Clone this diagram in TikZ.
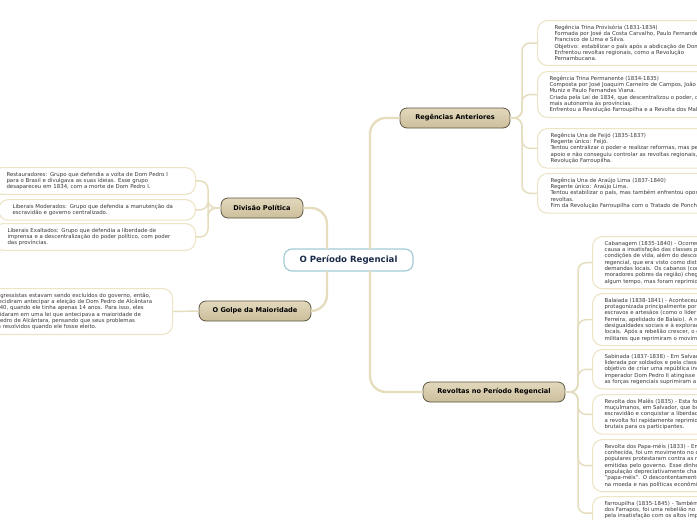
\documentclass[tikz,border=0pt]{standalone}
\usepackage{fontspec}
\setmainfont{DejaVu Sans}
\definecolor{connc}{HTML}{E6DDBE}
\definecolor{leafline}{HTML}{EDE4C6}
\definecolor{leaftext}{HTML}{3A3A3A}
\definecolor{brline}{HTML}{5E5744}
\definecolor{brtop}{HTML}{E2D8BC}
\definecolor{brbot}{HTML}{CBBE9B}
\definecolor{cline}{HTML}{A2CDD5}
\definecolor{ctext}{HTML}{1C2B4A}
\tikzset{
  leaf/.style={draw=leafline, line width=1.1pt, fill=white, rounded corners=10pt,
    align=left, font=\fontsize{5.4}{6.3}\selectfont, text=leaftext,
    inner ysep=4.5pt, anchor=north west},
  branch/.style={draw=brline, line width=0.8pt, top color=brtop, bottom color=brbot,
    rounded corners=7pt, minimum height=20pt, inner xsep=4pt,
    font=\fontsize{6.6}{7}\selectfont\bfseries, text=black},
  central/.style={draw=cline, line width=1.2pt, fill=white, rounded corners=8pt,
    minimum width=129pt, minimum height=22pt,
    font=\fontsize{8.6}{9}\selectfont\bfseries, text=ctext},
  spine/.style={draw=connc, line width=2.4pt, rounded corners=16pt},
  conn/.style={draw=connc, line width=1.5pt, rounded corners=8pt},
}
\begin{document}
\begin{tikzpicture}[x=1pt,y=-1pt]
\useasboundingbox (0,0) rectangle (697,520);
\clip (0,0) rectangle (697,520);
\fill[white] (0,0) rectangle (697,520);

% central and branches
\node[central] (c) at (348.5,260) {O Período Regencial};
\node[branch, minimum width=110pt] (ra) at (455,118) {Regências Anteriores};
\node[branch, minimum width=82pt] (dp) at (262,208) {Divisão Política};
\node[branch, minimum width=112pt] (gm) at (255,311) {O Golpe da Maioridade};
\node[branch, minimum width=142pt] (rv) at (494,392) {Revoltas no Período Regencial};

% Regências leaves
\node[leaf, text width=300pt, inner xsep=17pt] (r1) at (537,20) {Regência Trina Provisória (1831-1834)\\
Formada por José da Costa Carvalho, Paulo Fernandes Viana e\\
Francisco de Lima e Silva.\\
Objetivo: estabilizar o país após a abdicação de Dom Pedro I.\\
Enfrentou revoltas regionais, como a Revolução\\
Pernambucana.};
\node[leaf, text width=300pt, inner xsep=12pt] (r2) at (537,71) {Regência Trina Permanente (1834-1835)\\
Composta por José Joaquim Carneiro de Campos, João Bráulio\\
Muniz e Paulo Fernandes Viana.\\
Criada pela Lei de 1834, que descentralizou o poder, dando\\
mais autonomia às províncias.\\
Enfrentou a Revolução Farroupilha e a Revolta dos Malês.};
\node[leaf, text width=300pt, inner xsep=13pt] (r3) at (537,128) {Regência Una de Feijó (1835-1837)\\
Regente único: Feijó.\\
Tentou centralizar o poder e realizar reformas, mas perdeu\\
apoio e não conseguiu controlar as revoltas regionais, como a\\
Revolução Farroupilha.};
\node[leaf, text width=300pt, inner xsep=13pt] (r4) at (537,173) {Regência Una de Araújo Lima (1837-1840)\\
Regente único: Araújo Lima.\\
Tentou estabilizar o país, mas também enfrentou oposição e\\
revoltas.\\
Fim da Revolução Farroupilha com o Tratado de Ponche Verde.};

% Divisão Política leaves
\node[leaf, text width=175pt, inner xsep=14pt] (d1) at (-8,167) {Restauradores: Grupo que defendia a volta de Dom Pedro I\\
para o Brasil e divulgava as suas ideias. Esse grupo\\
desapareceu em 1834, com a morte de Dom Pedro I.};
\node[leaf, text width=169pt, inner xsep=14pt] (d2) at (-2,199) {Liberais Moderados: Grupo que defendia a manutenção da\\
escravidão e governo centralizado.};
\node[leaf, text width=174pt, inner xsep=14pt] (d3) at (-7,223) {Liberais Exaltados: Grupo que defendia a liberdade de\\
imprensa e a descentralização do poder político, com poder\\
das províncias.};

% Golpe leaf
\node[leaf, text width=176pt, inner xsep=14pt] (g1) at (-32,288) {Os progressistas estavam sendo excluídos do governo, então,\\
eles decidiram antecipar a eleição de Dom Pedro de Alcântara\\
em 1840, quando ele tinha apenas 14 anos. Para isso, eles\\
consolidaram em uma lei que antecipava a maioridade de\\
Dom Pedro de Alcântara, pensando que seus problemas\\
seriam resolvidos quando ele fosse eleito.};

% Revoltas leaves
\node[leaf, text width=300pt, inner xsep=12pt] (v1) at (592,236) {Cabanagem (1835-1840) - Ocorreu no Pará, tendo como\\
causa a insatisfação das classes populares com as\\
condições de vida, além do descontentamento com o governo\\
regencial, que era visto como distante e alheio às\\
demandas locais. Os cabanos (como eram chamados os\\
moradores pobres da região) chegaram a tomar o poder por\\
algum tempo, mas foram reprimidos.};
\node[leaf, text width=300pt, inner xsep=12pt] (v2) at (592,293) {Balaiada (1838-1841) - Aconteceu no Maranhão,\\
protagonizada principalmente por vaqueiros,\\
escravos e artesãos (como o líder Manuel dos Anjos\\
Ferreira, apelidado de Balaio). A revolta surgiu das\\
desigualdades sociais e à exploração pelas elites\\
locais. Após a rebelião crescer, o governo enviou tropas\\
militares que reprimiram o movimento.};
\node[leaf, text width=300pt, inner xsep=12pt] (v3) at (592,349) {Sabinada (1837-1838) - Em Salvador, Bahia, foi\\
liderada por soldados e pela classe média, com o\\
objetivo de criar uma república independente até que o\\
imperador Dom Pedro II atingisse a maioridade. Porém,\\
as forças regenciais suprimiram a revolta.};
\node[leaf, text width=300pt, inner xsep=12pt] (v4) at (592,394) {Revolta dos Malês (1835) - Esta foi uma revolta de\\
muçulmanos, em Salvador, que buscavam o fim da\\
escravidão e conquistar a liberdade religiosa. Porém,\\
a revolta foi rapidamente reprimida, com consequências\\
brutais para os participantes.};
\node[leaf, text width=300pt, inner xsep=12pt] (v5) at (592,439) {Revolta dos Papa-méis (1833) - Em Pernambuco, também\\
conhecida, foi um movimento no qual as camadas\\
populares protestaram contra as moedas de cobre\\
emitidas pelo governo. Esse dinheiro era chamado pela\\
população depreciativamente chamado de\\
"papa-méis". O descontentamento com a desvalorização\\
na moeda e nas políticas econômicas.};
\node[leaf, text width=300pt, inner xsep=12pt] (v6) at (592,496) {Farroupilha (1835-1845) - Também conhecida como Guerra\\
dos Farrapos, foi uma rebelião no Rio Grande do Sul, motivada\\
pela insatisfação com os altos impostos cobrados sobre o\\
charque gaúcho.};

% spine coordinates
\coordinate (sU) at (370,249);
\coordinate (sD) at (370,271);
\coordinate (sLU) at (327,249);
\coordinate (sLD) at (327,271);
\coordinate (ja) at (522,118);
\coordinate (jv) at (578,392);
\coordinate (jd) at (208,208);

% main connectors
\draw[spine] (sU) |- (ra.west);
\draw[spine] (sD) |- (rv.west);
\draw[spine] (sLU) |- (dp.east);
\draw[spine] (sLD) |- (gm.east);

% leaf connectors
\foreach \n in {r1,r2,r3,r4}
  \draw[conn] (ra.east) -| (ja |- \n.west) -- (\n.west);
\foreach \n in {v1,v2,v3,v4,v5,v6}
  \draw[conn] (rv.east) -| (jv |- \n.west) -- (\n.west);
\foreach \n in {d1,d2,d3}
  \draw[conn] (dp.west) -| (jd |- \n.east) -- (\n.east);
\draw[conn] (gm.west) -- (g1.east);
\end{tikzpicture}
\end{document}
